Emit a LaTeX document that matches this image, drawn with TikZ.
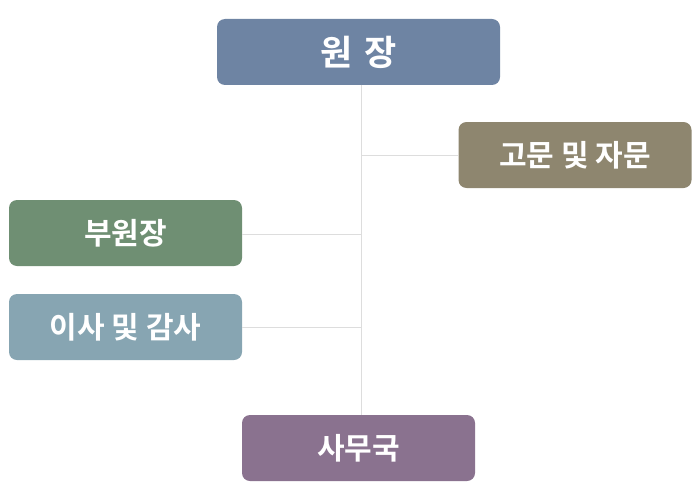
\documentclass[tikz,border=0pt]{standalone}
\usepackage{fontspec}
\newfontfamily\kr{Noto Sans CJK KR}[BoldFont={Noto Sans CJK KR Bold}]
\definecolor{cA}{HTML}{6E84A3}
\definecolor{cB}{HTML}{8E866F}
\definecolor{cC}{HTML}{6F8F73}
\definecolor{cD}{HTML}{87A5B2}
\definecolor{cE}{HTML}{8A728F}
\definecolor{ln}{HTML}{DDDDDD}
\tikzset{
  box/.style={rounded corners=8pt, minimum height=66pt, text=white, inner sep=0pt, font=\kr\bfseries\fontsize{30}{34}\selectfont},
  conn/.style={draw=ln, line width=1pt}
}
\begin{document}
\begin{tikzpicture}[x=1pt,y=-1pt]
\useasboundingbox (0,0) rectangle (700,500);
\node[box, fill=cA, minimum width=283pt, font=\kr\bfseries\fontsize{35}{40}\selectfont] (won) at (358.5,52) {원\hspace{12pt}장};
\node[box, fill=cB, minimum width=233pt] (gomun) at (575,155) {고문 및 자문};
\node[box, fill=cC, minimum width=233pt] (bu) at (125.5,233) {부원장};
\node[box, fill=cD, minimum width=233pt] (isa) at (125.5,327) {이사 및 감사};
\node[box, fill=cE, minimum width=233pt] (samu) at (358.5,448) {사무국};
\coordinate (top) at (361,85);
\coordinate (bot) at (361,415);
\coordinate (j1) at (361,155);
\coordinate (j2) at (361,234);
\coordinate (j3) at (361,327);
\draw[conn] (top) -- (bot);
\draw[conn] (j1) -- (gomun.west);
\draw[conn] (j2) -- (bu.east |- j2);
\draw[conn] (j3) -- (isa.east);
\end{tikzpicture}
\end{document}
